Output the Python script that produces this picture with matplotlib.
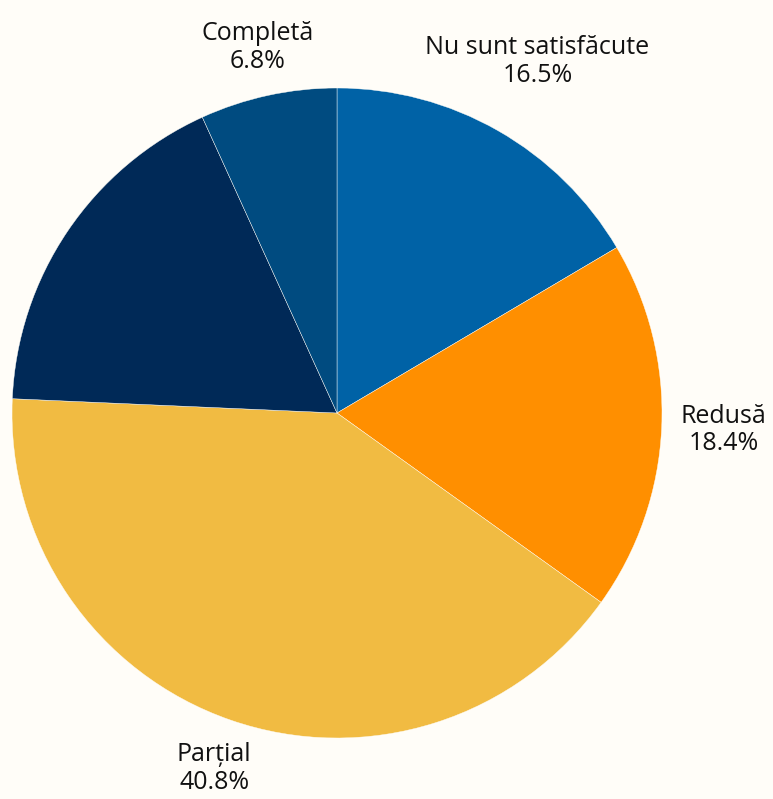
import numpy as np
import matplotlib.pyplot as plt

# slice data, clockwise from the top
categories = ['Nu sunt satisfăcute', 'Redusă', 'Parțial', '', 'Completă']
shares = [16.5, 18.4, 40.8, 17.5, 6.8]
colors = ['#0062a6', '#ff8f00', '#f1bb42', '#002957', '#004b80']
label_dist = [1.245, 1.19, 1.157, 1.2, 1.15]

bg = '#fffdf8'
plt.rcParams['font.family'] = ['Open Sans', 'DejaVu Sans']

fig = plt.figure(figsize=(7.73, 7.99), dpi=100, facecolor=bg)
ax = fig.add_axes([0, 0, 1, 1])
ax.set_facecolor(bg)

wedges, _ = ax.pie(shares, colors=colors, startangle=90, counterclock=False,
                   radius=1.0, wedgeprops=dict(edgecolor=bg, linewidth=0.3))

# labels outside each wedge
for w, name, val, d in zip(wedges, categories, shares, label_dist):
    if not name:
        continue
    mid = np.deg2rad((w.theta1 + w.theta2) / 2)
    ax.text(d * np.cos(mid), d * np.sin(mid), f'{name}\n{val:.1f}%',
            ha='center', va='center', fontsize=18, color='#111111',
            linespacing=1.15)

# place the pie centre at (337, 413) px with radius 325 px
ax.set_xlim(-337 / 325, (773 - 337) / 325)
ax.set_ylim(-(799 - 413) / 325, 413 / 325)
ax.set_aspect('auto')
ax.axis('off')

fig.savefig('out.png', dpi=100, facecolor=bg)
